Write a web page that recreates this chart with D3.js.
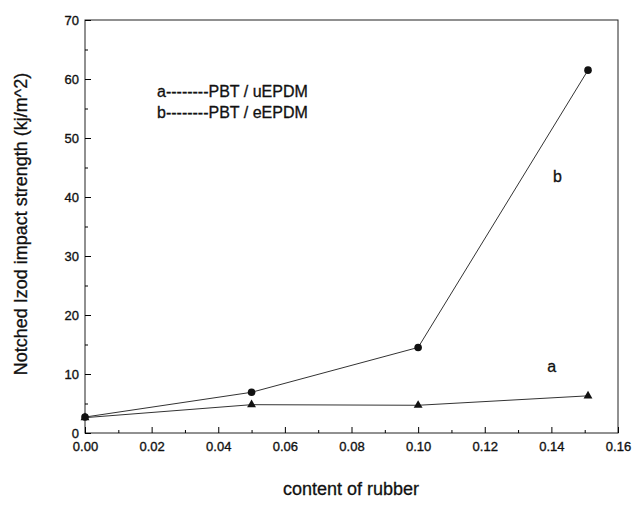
<!DOCTYPE html>
<html lang="en">
<head>
    <meta charset="UTF-8">
    <title>Notched Izod impact strength vs content of rubber</title>
    <script src="https://d3js.org/d3.v7.min.js"></script>
    <style>
        body { margin: 0; background: #fff; }
        text { font-family: "Liberation Sans", Arial, sans-serif; fill: #111; }
        .tick text { font-size: 13px; stroke: #111; stroke-width: 0.35px; }
        .axis-label { font-size: 18px; stroke: #111; stroke-width: 0.3px; }
        .legend { font-size: 16px; stroke: #111; stroke-width: 0.3px; }
        .line { fill: none; stroke: #333; stroke-width: 1px; }
    </style>
</head>
<body>
    <div id="chart"></div>
    <script>
        // data
        const rubber = [0.00, 0.05, 0.10, 0.151];
        const seriesA = [2.6, 4.8, 4.7, 6.3];   // PBT / uEPDM (triangles)
        const seriesB = [2.7, 6.9, 14.5, 61.5]; // PBT / eEPDM (circles)
        const xTicks = [0, 0.02, 0.04, 0.06, 0.08, 0.10, 0.12, 0.14, 0.16];
        const yTicks = [0, 10, 20, 30, 40, 50, 60, 70];

        const width = 632, height = 507;
        const plotLeft = 85, plotRight = 618, plotTop = 20, plotBottom = 433;

        const svg = d3.select("#chart").append("svg")
            .attr("width", width)
            .attr("height", height);

        const x = d3.scaleLinear().domain([0, 0.16]).range([plotLeft, plotRight]);
        const y = d3.scaleLinear().domain([0, 70]).range([plotBottom, plotTop]);

        // frame
        svg.append("rect")
            .attr("x", plotLeft).attr("y", plotTop)
            .attr("width", plotRight - plotLeft).attr("height", plotBottom - plotTop)
            .attr("fill", "none").attr("stroke", "#222").attr("stroke-width", 1);

        // minor ticks
        svg.append("g")
            .attr("transform", `translate(0,${plotBottom})`)
            .call(d3.axisTop(x).tickValues(d3.range(0.01, 0.16, 0.02)).tickSize(3).tickFormat(""))
            .call(g => g.select(".domain").remove());
        svg.append("g")
            .attr("transform", `translate(${plotLeft},0)`)
            .call(d3.axisRight(y).tickValues(d3.range(5, 70, 10)).tickSize(3).tickFormat(""))
            .call(g => g.select(".domain").remove());

        // x axis
        const xAxis = svg.append("g")
            .attr("transform", `translate(0,${plotBottom})`)
            .call(d3.axisTop(x).tickValues(xTicks).tickSize(6).tickFormat(d3.format(".2f")));
        xAxis.select(".domain").remove();
        xAxis.selectAll(".tick text").attr("y", 9).attr("dy", "0.71em");

        // y axis
        const yAxis = svg.append("g")
            .attr("transform", `translate(${plotLeft},0)`)
            .call(d3.axisRight(y).tickValues(yTicks).tickSize(6));
        yAxis.select(".domain").remove();
        yAxis.selectAll(".tick text").attr("x", -6).attr("text-anchor", "end");

        // lines
        const line = d3.line().x(d => x(d[0])).y(d => y(d[1]));
        const dataA = rubber.map((r, i) => [r, seriesA[i]]);
        const dataB = rubber.map((r, i) => [r, seriesB[i]]);

        svg.append("path").datum(dataA).attr("class", "line").attr("d", line);
        svg.append("path").datum(dataB).attr("class", "line").attr("d", line);

        // markers
        svg.selectAll(".tri")
            .data(dataA)
            .enter().append("path")
            .attr("class", "tri")
            .attr("transform", d => `translate(${x(d[0])},${y(d[1])})`)
            .attr("d", d3.symbol().type(d3.symbolTriangle).size(34))
            .attr("fill", "#111");

        svg.selectAll(".dot")
            .data(dataB)
            .enter().append("circle")
            .attr("class", "dot")
            .attr("cx", d => x(d[0]))
            .attr("cy", d => y(d[1]))
            .attr("r", 3.8)
            .attr("fill", "#111");

        // legend
        svg.append("text").attr("class", "legend")
            .attr("x", 157).attr("y", 97)
            .text("a--------PBT / uEPDM");
        svg.append("text").attr("class", "legend")
            .attr("x", 157).attr("y", 118)
            .text("b--------PBT / eEPDM");

        // curve labels
        svg.append("text").attr("class", "legend")
            .attr("x", x(0.1418)).attr("y", y(42.5))
            .attr("text-anchor", "middle")
            .text("b");
        svg.append("text").attr("class", "legend")
            .attr("x", x(0.1401)).attr("y", y(10.35))
            .attr("text-anchor", "middle")
            .text("a");

        // axis labels
        svg.append("text")
            .attr("class", "axis-label")
            .attr("x", 351).attr("y", 495)
            .attr("text-anchor", "middle")
            .text("content of rubber");

        svg.append("text")
            .attr("class", "axis-label")
            .attr("transform", "translate(27,224) rotate(-90)")
            .attr("text-anchor", "middle")
            .text("Notched Izod impact strength (kj/m^2)");
    </script>
</body>
</html>
